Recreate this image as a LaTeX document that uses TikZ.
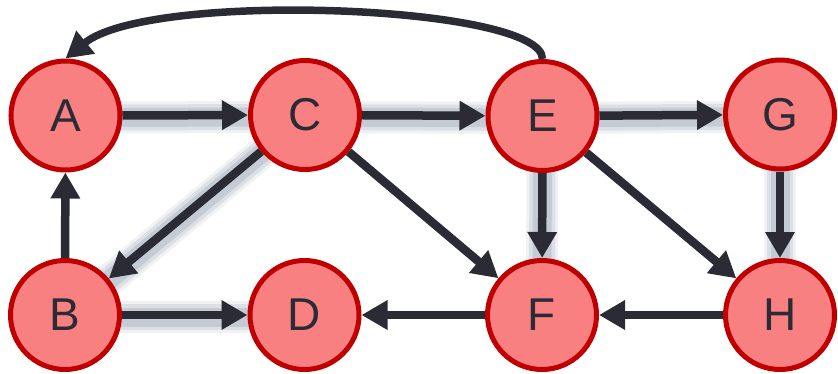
\documentclass[tikz,border=0pt]{standalone}
\usepackage{fontspec}
\setmainfont{Liberation Sans}
\usetikzlibrary{arrows.meta}
\pgfdeclarelayer{bg}
\pgfsetlayers{bg,main}
\definecolor{nodefill}{HTML}{F88080}
\definecolor{nodeborder}{HTML}{C00000}
\definecolor{ink}{HTML}{2A2B35}
\definecolor{glowc}{HTML}{7F8CA0}
\newcommand\glowedge[2]{%
  \begin{pgfonlayer}{bg}
    \foreach \w/\o in {32/0.12, 26/0.17, 19/0.25}{
      \draw[glowc, line width=\w pt, opacity=\o, line cap=round, transform canvas={yshift=-2pt}] (#1) -- (#2);
    }
  \end{pgfonlayer}}
\begin{document}
\begin{tikzpicture}[x=1pt,y=-1pt,
  vertex/.style={circle, fill=nodefill, draw=nodeborder, line width=5pt,
    minimum size=109pt, inner sep=0pt, text=ink,
    font=\fontsize{46}{46}\selectfont},
  edge/.style={draw=ink, line width=8.5pt, -{Triangle[length=26pt,width=28pt]}},
  curveedge/.style={draw=ink, line width=7.5pt, -{Triangle[length=26pt,width=28pt]}}
]
\useasboundingbox (0,0) rectangle (838,373);
\node[vertex] (A) at (65.5,115.5) {A};
\node[vertex] (C) at (305,115) {C};
\node[vertex] (E) at (542.5,116) {E};
\node[vertex] (G) at (780,114.5) {G};
\node[vertex] (B) at (65,315) {B};
\node[vertex] (D) at (304.5,315) {D};
\node[vertex] (F) at (542,315) {F};
\node[vertex] (H) at (780,315) {H};

\glowedge{A}{C}
\glowedge{C}{E}
\glowedge{E}{G}
\glowedge{C}{B}
\glowedge{B}{D}
\glowedge{E}{F}
\glowedge{G}{H}

\begin{pgfonlayer}{bg}
\draw[edge] (A) -- (C);
\draw[edge] (C) -- (E);
\draw[edge] (E) -- (G);
\draw[edge] (C) -- (B);
\draw[edge] (C) -- (F);
\draw[edge] (B) -- (A);
\draw[edge] (B) -- (D);
\draw[edge] (E) -- (F);
\draw[edge] (E) -- (H);
\draw[edge] (G) -- (H);
\draw[edge] (F) -- (D);
\draw[edge] (H) -- (F);
\draw[curveedge] (E.north) .. controls (543,5) and (150,-10) .. (A.north);
\end{pgfonlayer}
\end{tikzpicture}
\end{document}
